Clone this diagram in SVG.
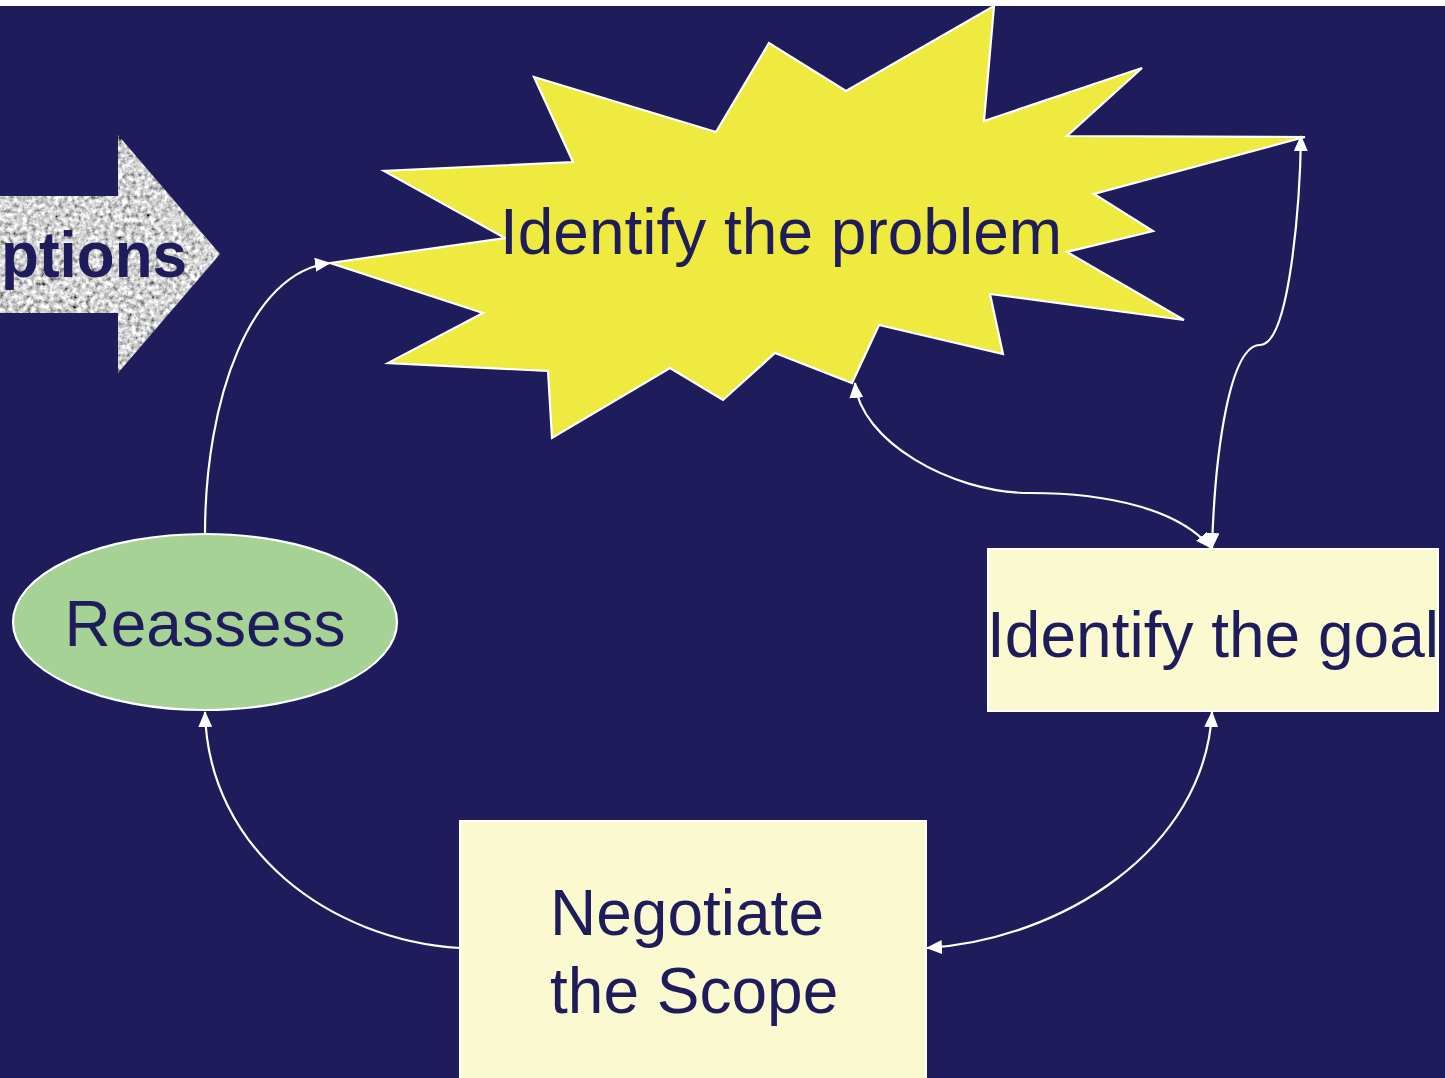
<svg xmlns="http://www.w3.org/2000/svg" width="1445" height="1078" viewBox="0 0 1445 1078">
<style>
.lbl{font-family:"Liberation Sans",Arial,sans-serif;font-size:64px;fill:#1f1c5b}
.conn{fill:none;stroke:#ffffff;stroke-width:2.2}
.box{fill:#fbf9cf;stroke:#ffffff;stroke-width:2}
</style>
<defs>
<marker id="ah" viewBox="0 0 16 14" refX="15" refY="7" markerWidth="16" markerHeight="14" markerUnits="userSpaceOnUse" orient="auto-start-reverse">
<path d="M0,0 L16,7 L0,14 Z" fill="#ffffff"/>
</marker>
<filter id="grain" x="0" y="0" width="100%" height="100%">
<feTurbulence type="fractalNoise" baseFrequency="0.22" numOctaves="3" seed="5" result="n"/>
<feColorMatrix in="n" type="matrix" values="1.1 1.1 0 0 -0.45  1.1 1.1 0 0 -0.45  1.1 1.1 0 0 -0.45  0 0 0 0 1" result="g"/>
<feComposite in="g" in2="SourceGraphic" operator="in"/>
</filter>
</defs>
<rect x="0" y="0" width="1445" height="1078" fill="#ffffff"/>
<rect x="0" y="6" width="1445" height="1072" fill="#1f1c5b"/>

<g id="options-arrow">
<path d="M-2,196 L118,196 L118,135 L220,254 L118,373 L118,313 L-2,313 Z" fill="#a6a6a6" filter="url(#grain)"/>
<text x="1" y="277" textLength="186" lengthAdjust="spacingAndGlyphs" style="font-family:'Liberation Sans',Arial,sans-serif;font-size:64px;font-weight:bold;fill:#1f1c5b">ptions</text>
</g>

<g id="connectors">
<path class="conn" d="M205,534 C205,400 250,272 330,263" marker-end="url(#ah)"/>
<path class="conn" d="M460,948 C330,940 208,850 205,712" marker-end="url(#ah)"/>
<path class="conn" d="M1212,712 C1205,850 1060,940 927,948" marker-start="url(#ah)" marker-end="url(#ah)"/>
<path class="conn" d="M855,383 C860,440 950,493 1030,493 C1110,493 1180,510 1211,548" marker-start="url(#ah)" marker-end="url(#ah)"/>
<path class="conn" d="M1301,136 C1300,200 1290,345 1260,345 C1230,345 1215,450 1212,548" marker-start="url(#ah)" marker-end="url(#ah)"/>
</g>

<g id="problem">
<path d="M330,263 L505,238 L384,171 L573,162 L534,77 L716,132 L769,43 L846,91 L994,6 L984,121 L1142,68 L1067,136 L1305,137 L1094,194 L1153,231 L1067,252 L1184,320 L990,294 L1003,354 L879,325 L852,383 L775,353 L723,400 L670,368 L552,438 L548,371 L388,363 L483,313 Z" fill="#efea40" stroke="#ffffff" stroke-width="2.2" stroke-linejoin="miter"/>
<text class="lbl" x="781" y="254" text-anchor="middle">Identify the problem</text>
</g>

<g id="goal">
<rect class="box" x="988" y="549" width="450" height="162"/>
<text class="lbl" x="1213" y="657" text-anchor="middle">Identify the goal</text>
</g>

<g id="scope">
<rect class="box" x="460" y="821" width="466" height="262"/>
<text class="lbl" x="550" y="935">Negotiate</text>
<text class="lbl" x="550" y="1013">the Scope</text>
</g>

<g id="reassess">
<ellipse cx="205" cy="622" rx="192" ry="88" fill="#a6d395" stroke="#ffffff" stroke-width="2.2"/>
<text class="lbl" x="205" y="646" text-anchor="middle">Reassess</text>
</g>
</svg>
